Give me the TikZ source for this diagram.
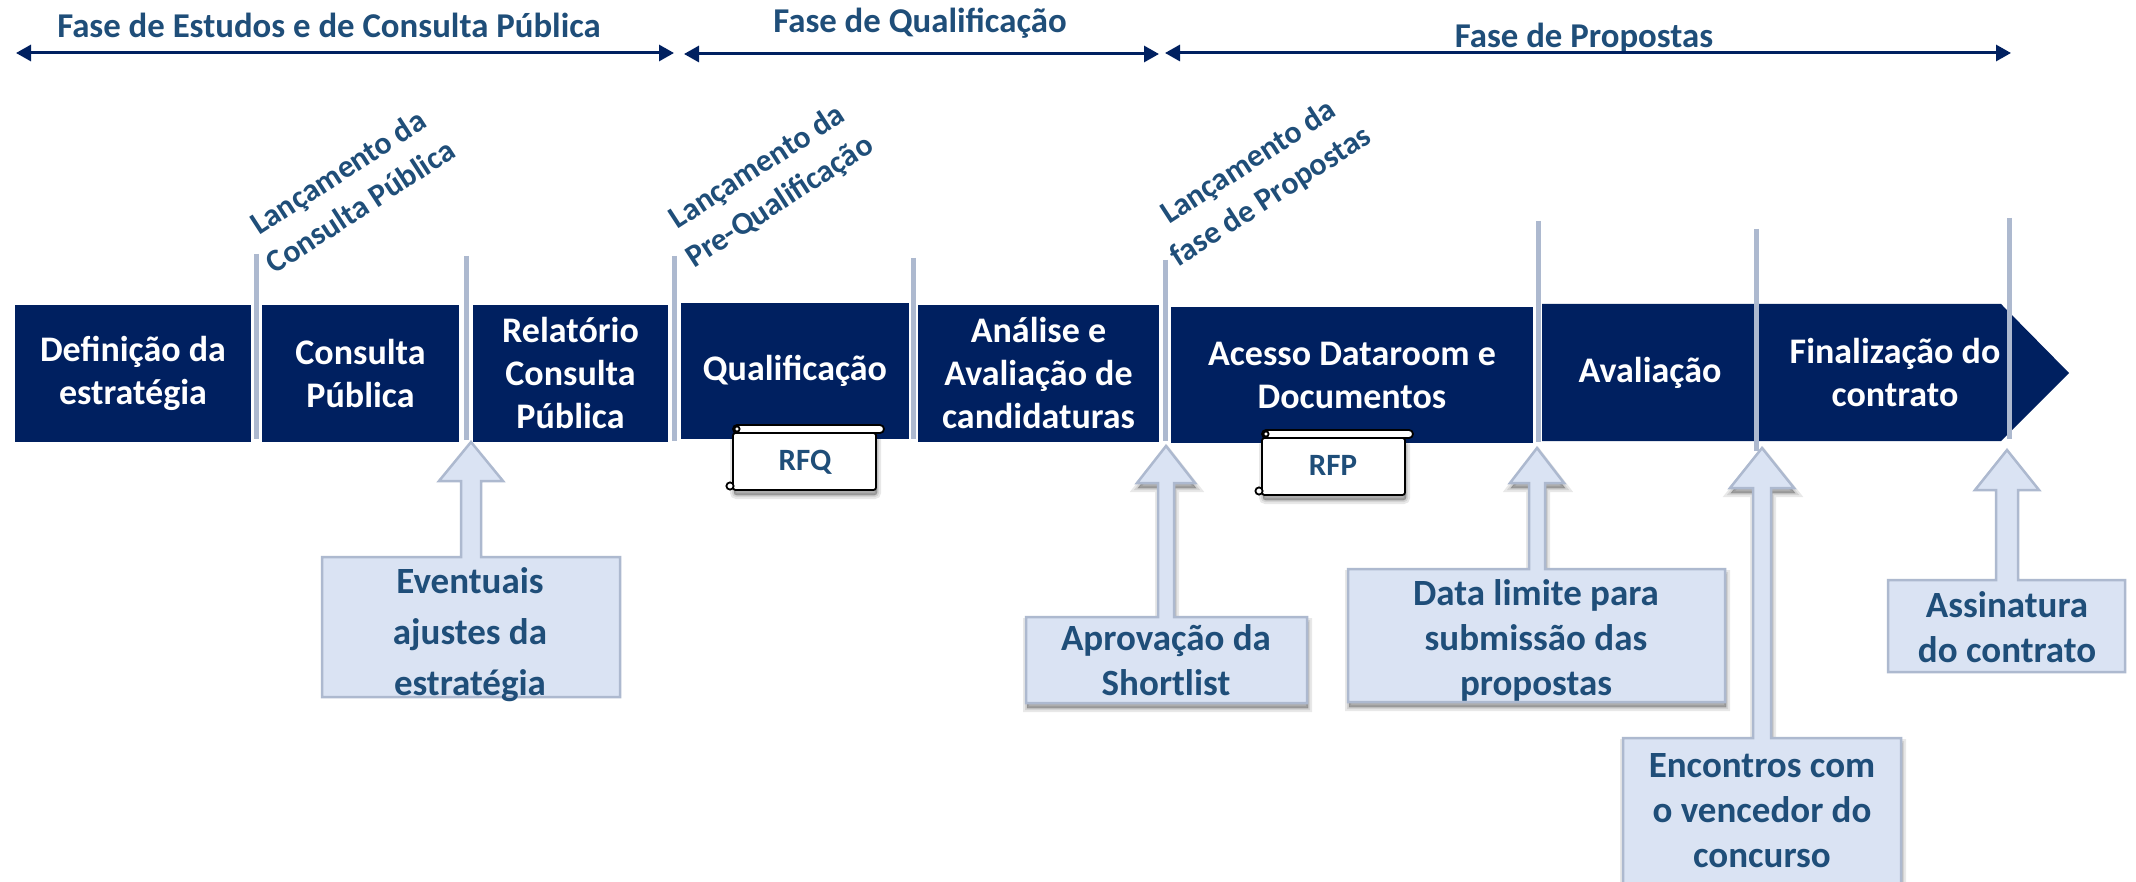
\documentclass[tikz,border=0pt]{standalone}
\usepackage{fontspec}
\setmainfont{Carlito}
\usetikzlibrary{arrows.meta,calc}
\definecolor{navy}{HTML}{002060}
\definecolor{ink}{HTML}{1F4E79}
\definecolor{pale}{HTML}{DAE3F3}
\definecolor{edge}{HTML}{ADB9CF}
\tikzset{
  x=1pt,y=-1pt,
  barbox/.style={fill=navy,draw=none,inner sep=0pt,text=white,font=\fontsize{36}{43}\selectfont\bfseries,align=center,anchor=center},
  bartext/.style={inner sep=0pt,text=white,font=\fontsize{36}{43}\selectfont\bfseries,align=center},
  milestone/.style={draw=edge,line width=5pt},
  phase/.style={draw=navy,line width=3pt,{Triangle[length=15pt,width=16pt]}-{Triangle[length=15pt,width=16pt]}},
  phasetitle/.style={inner sep=0pt,text=ink,font=\fontsize{34.8}{38}\selectfont\bfseries},
  slanted/.style={inner sep=0pt,text=ink,rotate=33,align=center,font=\fontsize{31.8}{41}\selectfont\bfseries},
  callout/.style={fill=pale,draw=edge,line width=2.5pt,line join=miter},
  shadowlayer/.style={preaction={draw=black,fill=black,line width=#1,draw opacity=.09,fill opacity=.09,transform canvas={xshift=1pt,yshift=-5pt}}},
  softshadow/.style={shadowlayer=8pt,shadowlayer=4pt,shadowlayer=1pt},
  calltext/.style={inner sep=0pt,text=ink,align=center,font=\fontsize{37}{45}\selectfont\bfseries},
  scrollpart/.style={fill=white,draw=black,line width=1.8pt,rounded corners=2.5pt},
  scrollroll/.style={fill=white,draw=black,line width=1.8pt,rounded corners=4pt},
  scrollcurl/.style={fill=white,draw=black,line width=1.8pt},
  scrolltext/.style={inner sep=0pt,text=ink,font=\fontsize{31}{32}\selectfont\bfseries},
}
% name, centre x, centre y, width, height, text
\newcommand{\barnode}[6]{\node[barbox,minimum width=#4pt,minimum height=#5pt] (#1) at (#2,#3) {#6};}
% tip x, tip y, base y, head half width, shaft half width, extra style
\newcommand{\calloutshape}[6]{%
  \path[callout,#6] (#1,#2) -- ({#1+#4},#3) -- ({#1+#5},#3) -- ({#1+#5},\boxtop) -- (\boxright,\boxtop) -- (\boxright,\boxbottom) -- (\boxleft,\boxbottom) -- (\boxleft,\boxtop) -- ({#1-#5},\boxtop) -- ({#1-#5},#3) -- ({#1-#4},#3) -- cycle;}
\newcommand{\calloutbox}[4]{\def\boxleft{#1}\def\boxtop{#2}\def\boxright{#3}\def\boxbottom{#4}}
% left x of body, right x of body, top y of body, bottom y of body
\newcommand{\scrollshape}[4]{%
  \path[scrollpart,softshadow] (#1,#3) rectangle (#2,#4);
  \path[scrollroll] (#1,{#3-8}) rectangle ({#2+8},#3);
  \path[scrollcurl] ({#1+4},{#3-4}) circle (2.6pt);
  \path[scrollcurl] ({#1-3},{#4-4}) circle (3.6pt);
}
\begin{document}
\begin{tikzpicture}
\useasboundingbox (0,0) rectangle (2136,882);
\clip (0,0) rectangle (2136,882);
\fill[white] (0,0) rectangle (2136,882);

% phase titles and arrows
\coordinate (p1a) at (16,53);  \coordinate (p1b) at (674,53);
\coordinate (p2a) at (684,54); \coordinate (p2b) at (1159,54);
\coordinate (p3a) at (1165,53);\coordinate (p3b) at (2011,53);
\node[phasetitle] (t1) at (329,25) {Fase de Estudos e de Consulta Pública};
\node[phasetitle] (t2) at (920,23) {Fase de Qualificação};
\node[phasetitle] (t3) at (1584,38) {Fase de Propostas};
\draw[phase] (p1a) -- (p1b);
\draw[phase] (p2a) -- (p2b);
\draw[phase] (p3a) -- (p3b);

% slanted labels
\node[slanted] (s1) at (349,189) {Lançamento da\\Consulta Pública};
\node[slanted] (s2) at (769,185) {Lançamento da\\Pre-Qualificação};
\node[slanted] (s3) at (1260,180) {Lançamento da\\fase de Propostas};

% bar
\barnode{b1}{133}{373.5}{236}{137}{Definição da\\estratégia}
\barnode{b2}{360.5}{373.5}{197}{137}{Consulta\\Pública}
\barnode{b3}{570.5}{373.5}{195}{137}{Relatório\\Consulta\\Pública}
\barnode{b4}{795}{371}{228}{136}{Qualificação}
\barnode{b5}{1038.5}{373.5}{241}{137}{Análise e\\Avaliação de\\candidaturas}
\barnode{b6}{1352}{375}{362}{136}{Acesso Dataroom e\\Documentos}
\fill[navy] (1542,304) -- (2001,304) -- (2069,373) -- (2001,441) -- (1542,441) -- cycle;
\node[bartext] (b7) at (1650,373) {Avaliação};
\node[bartext] (b8) at (1895,373) {Finalização do\\contrato};

% milestones
\coordinate (m1a) at (256.5,254);  \coordinate (m1b) at (256.5,439);
\coordinate (m2a) at (466,256);    \coordinate (m2b) at (466,440);
\coordinate (m3a) at (674,256);    \coordinate (m3b) at (674,441);
\coordinate (m4a) at (913,258);    \coordinate (m4b) at (913,439);
\coordinate (m5a) at (1165,260);   \coordinate (m5b) at (1165,441);
\coordinate (m6a) at (1538,221);   \coordinate (m6b) at (1538,442);
\coordinate (m7a) at (1756,229);   \coordinate (m7b) at (1756,451);
\coordinate (m8a) at (2009,218);   \coordinate (m8b) at (2009,439);
\foreach \i in {1,...,8} {\draw[milestone] (m\i a) -- (m\i b);}

% scrolls
\scrollshape{733}{876}{433}{490}
\node[scrolltext] (rfq) at (805,462) {RFQ};
\scrollshape{1262}{1405}{438}{495}
\node[scrolltext] (rfp) at (1333,465) {RFP};

% callouts
\calloutbox{322}{557}{620}{697}
\calloutshape{471}{442}{481}{32}{10}{}
\node[calltext,font=\fontsize{37}{51}\selectfont\bfseries] (c1) at (470,635) {Eventuais\\ajustes da\\estratégia};
\calloutbox{1026}{617}{1307}{703}
\calloutshape{1166}{446}{483}{29}{8}{softshadow}
\node[calltext] (c2) at (1166,660) {Aprovação da\\Shortlist};
\calloutbox{1348}{569}{1725}{702}
\calloutshape{1537}{448}{483}{27}{8}{softshadow}
\node[calltext] (c3) at (1536,640) {Data limite para\\submissão das\\propostas};
\calloutbox{1623}{738}{1901}{884}
\calloutshape{1762}{448}{488}{32}{9}{softshadow}
\node[calltext] (c4) at (1762,811) {Encontros com\\o vencedor do\\concurso};
\calloutbox{1888}{580}{2125}{672}
\calloutshape{2007}{450}{490}{32}{11}{}
\node[calltext] (c5) at (2007,627) {Assinatura\\do contrato};
\end{tikzpicture}
\end{document}
